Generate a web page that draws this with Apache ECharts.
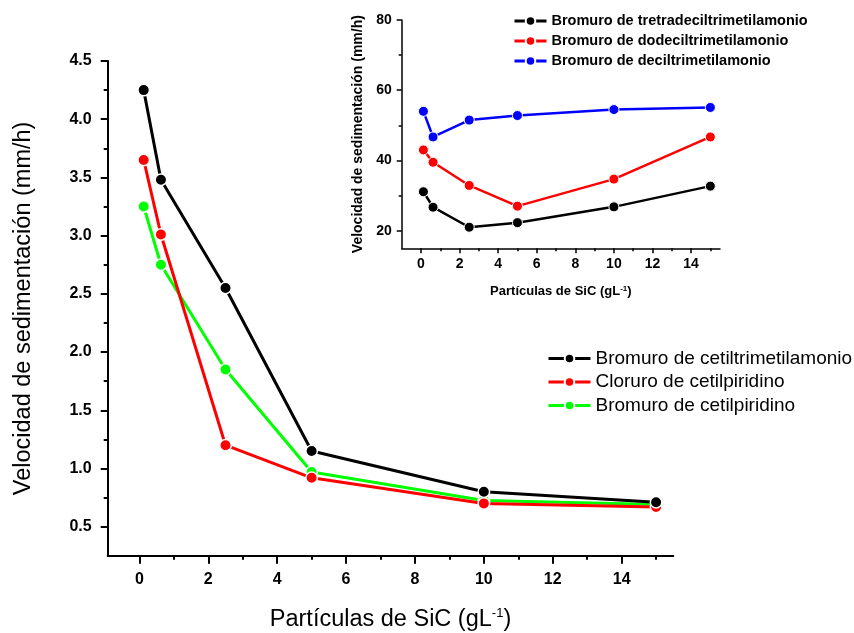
<!DOCTYPE html>
<html>
<head>
<meta charset="utf-8">
<script src="https://cdn.jsdelivr.net/npm/echarts@6/dist/echarts.min.js"></script>
<style>html,body{margin:0;padding:0;background:#fff}#c{width:854px;height:633px}</style>
</head>
<body>
<div id="c"></div>
<script>
// Shared x values (SiC particle concentration, g/L)
const xValues = [0.125, 0.625, 2.5, 5, 10, 15];

// Main chart series
const mainNames = ['Bromuro de cetiltrimetilamonio', 'Cloruro de cetilpiridino', 'Bromuro de cetilpiridino'];
const mainColors = ['#000000', '#ff0000', '#00ff00'];
const bromuroCetiltrimetilamonio = [4.25, 3.48, 2.55, 1.15, 0.80, 0.71];
const cloruroCetilpiridino = [3.65, 3.01, 1.20, 0.92, 0.70, 0.67];
const bromuroCetilpiridino = [3.25, 2.75, 1.85, 0.97, 0.725, 0.69];

// Inset series
const insetNames = ['Bromuro de tretradeciltrimetilamonio', 'Bromuro de dodeciltrimetilamonio', 'Bromuro de deciltrimetilamonio'];
const insetColors = ['#000000', '#ff0000', '#0000ff'];
const bromuroTetradecil = [31.1, 26.7, 21.0, 22.3, 26.8, 32.7];
const bromuroDodecil = [43.0, 39.5, 32.9, 27.0, 34.7, 46.7];
const bromuroDecil = [54.0, 46.7, 51.5, 52.8, 54.5, 55.1];

// Tick values
const mainXTicks = [0, 2, 4, 6, 8, 10, 12, 14];
const mainXMinor = [1, 3, 5, 7, 9, 11, 13, 15];
const mainYTicks = [0.5, 1.0, 1.5, 2.0, 2.5, 3.0, 3.5, 4.0, 4.5];
const mainYMinor = [0.75, 1.25, 1.75, 2.25, 2.75, 3.25, 3.75, 4.25];
const insetXTicks = [0, 2, 4, 6, 8, 10, 12, 14];
const insetXMinor = [1, 3, 5, 7, 9, 11, 13, 15];
const insetYTicks = [20, 40, 60, 80];
const insetYMinor = [30, 50, 70];

const FONT = 'Arial, "Liberation Sans", sans-serif';
const pair = (ys) => xValues.map((x, i) => [x, ys[i]]);

function axisBase(opts) {
  const base = {
    type: 'value',
    splitLine: { show: false },
  };
  const o = Object.assign(base, opts);
  o.axisLine = Object.assign({ show: true, onZero: false, lineStyle: { color: '#000', width: 2 } }, opts.axisLine || {});
  o.axisLine.onZero = false;
  return o;
}

const chart = echarts.init(document.getElementById('c'), null, { renderer: 'canvas' });

const mainSeriesData = [bromuroCetiltrimetilamonio, cloruroCetilpiridino, bromuroCetilpiridino];
const insetSeriesData = [bromuroTetradecil, bromuroDodecil, bromuroDecil];

const series = [];
mainSeriesData.forEach((d, i) => {
  series.push({
    name: mainNames[i], type: 'line', xAxisIndex: 0, yAxisIndex: 0,
    data: pair(d), symbol: 'circle', symbolSize: 11.5,
    lineStyle: { color: mainColors[i], width: 3 },
    itemStyle: { color: mainColors[i], borderColor: '#fff', borderWidth: 1.5 },
    z: 10 - i, animation: false
  });
});
insetSeriesData.forEach((d, i) => {
  series.push({
    name: insetNames[i], type: 'line', xAxisIndex: 2, yAxisIndex: 2,
    data: pair(d), symbol: 'circle', symbolSize: 10,
    lineStyle: { color: insetColors[i], width: 2.5 },
    itemStyle: { color: insetColors[i], borderColor: '#fff', borderWidth: 1 },
    animation: false
  });
});

const option = {
  backgroundColor: '#fff',
  animation: false,
  grid: [
    { left: 107.7, top: 61, width: 565.6, height: 494.8, outerBoundsMode: 'none', containLabel: false },
    { left: 401.7, top: 20, width: 318.3, height: 228.3, outerBoundsMode: 'none', containLabel: false }
  ],
  xAxis: [
    axisBase({
      gridIndex: 0, min: -0.92, max: 15.5, position: 'bottom',
      name: '{a|Partículas de SiC (gL}{s|-1}{a|)}', nameLocation: 'middle', nameGap: 51,
      nameTextStyle: { rich: { a: { fontFamily: FONT, fontSize: 23.5, color: '#000' }, s: { fontFamily: FONT, fontSize: 13, color: '#000', verticalAlign: 'top', padding: [0, 0, 12, 0] } } },
      axisTick: { show: true, customValues: mainXTicks, length: 8, lineStyle: { color: '#000', width: 2 } },
      axisLabel: { customValues: mainXTicks, margin: 16, fontFamily: FONT, fontSize: 16, fontWeight: 'bold', color: '#000' }
    }),
    axisBase({
      gridIndex: 0, min: -0.92, max: 15.5, position: 'bottom',
      axisLine: { show: false },
      axisTick: { show: true, customValues: mainXMinor, length: 4, lineStyle: { color: '#000', width: 2 } },
      axisLabel: { show: false }
    }),
    axisBase({
      gridIndex: 1, min: -1, max: 15.5, position: 'bottom',
      axisLine: { show: true, lineStyle: { color: '#000', width: 1.5 } },
      name: '{a|Partículas de SiC (gL}{s|-1}{a|)}', nameLocation: 'middle', nameGap: 36,
      nameTextStyle: { rich: { a: { fontFamily: FONT, fontSize: 13, fontWeight: 'bold', color: '#000' }, s: { fontFamily: FONT, fontSize: 8, fontWeight: 'bold', color: '#000', verticalAlign: 'top', padding: [0, 0, 6, 0] } } },
      axisTick: { show: true, customValues: insetXTicks, length: 5, lineStyle: { color: '#000', width: 1.5 } },
      axisLabel: { customValues: insetXTicks, margin: 9, fontFamily: FONT, fontSize: 14, fontWeight: 'bold', color: '#000' }
    }),
    axisBase({
      gridIndex: 1, min: -1, max: 15.5, position: 'bottom',
      axisLine: { show: false },
      axisTick: { show: true, customValues: insetXMinor, length: 3, lineStyle: { color: '#000', width: 1.5 } },
      axisLabel: { show: false }
    })
  ],
  yAxis: [
    axisBase({
      gridIndex: 0, min: 0.25, max: 4.5, position: 'left',
      name: 'Velocidad de sedimentación (mm/h)', nameLocation: 'middle', nameGap: 72,
      nameTextStyle: { fontFamily: FONT, fontSize: 23.5, color: '#000' },
      axisTick: { show: true, customValues: mainYTicks, length: 7, lineStyle: { color: '#000', width: 2 } },
      axisLabel: { customValues: mainYTicks, margin: 16, fontFamily: FONT, fontSize: 16, fontWeight: 'bold', color: '#000', formatter: v => Number(v).toFixed(1) }
    }),
    axisBase({
      gridIndex: 0, min: 0.25, max: 4.5, position: 'left',
      axisLine: { show: false },
      axisTick: { show: true, customValues: mainYMinor, length: 4, lineStyle: { color: '#000', width: 2 } },
      axisLabel: { show: false }
    }),
    axisBase({
      gridIndex: 1, min: 15, max: 80, position: 'left',
      axisLine: { show: true, lineStyle: { color: '#000', width: 1.5 } },
      name: 'Velocidad de sedimentación (mm/h)', nameLocation: 'middle', nameGap: 36.5,
      nameTextStyle: { fontFamily: FONT, fontSize: 14, fontWeight: 'bold', color: '#000' },
      axisTick: { show: true, customValues: insetYTicks, length: 5, lineStyle: { color: '#000', width: 1.5 } },
      axisLabel: { customValues: insetYTicks, margin: 10, fontFamily: FONT, fontSize: 14, fontWeight: 'bold', color: '#000' }
    }),
    axisBase({
      gridIndex: 1, min: 15, max: 80, position: 'left',
      axisLine: { show: false },
      axisTick: { show: true, customValues: insetYMinor, length: 3, lineStyle: { color: '#000', width: 1.5 } },
      axisLabel: { show: false }
    })
  ],
  legend: [
    {
      data: mainNames, orient: 'vertical', left: 542, top: 344,
      itemWidth: 42, itemHeight: 12, itemGap: 4.5,
      lineStyle: { width: 3 },
      textStyle: { fontFamily: FONT, fontSize: 19, lineHeight: 18, color: '#000' },
      selectedMode: false
    },
    {
      data: insetNames, orient: 'vertical', left: 508, top: 8.5,
      itemWidth: 32, itemHeight: 12, itemGap: 5,
      lineStyle: { width: 3 },
      textStyle: { fontFamily: FONT, fontSize: 14.5, fontWeight: 'bold', lineHeight: 13.5, color: '#000' },
      selectedMode: false
    }
  ],
  series: series
};
chart.setOption(option);
</script>
</body>
</html>
